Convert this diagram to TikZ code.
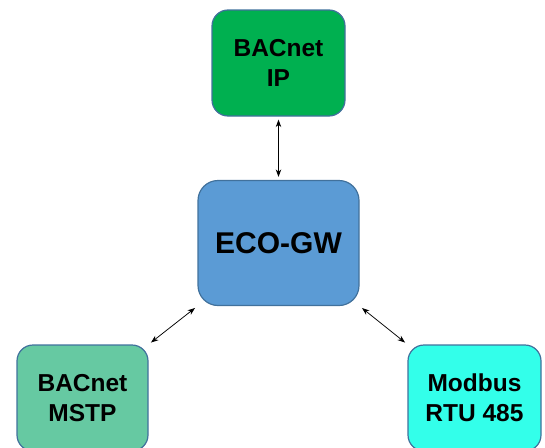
\documentclass[tikz,border=0pt]{standalone}
\usepackage{fontspec}
\setmainfont{Liberation Sans}
\usetikzlibrary{arrows.meta}
\definecolor{bordc}{HTML}{41719C}
\definecolor{ipgreen}{HTML}{00B050}
\definecolor{gwblue}{HTML}{5B9BD5}
\definecolor{mstpc}{HTML}{66C9A2}
\definecolor{modc}{HTML}{33FFEA}
\begin{document}
\begin{tikzpicture}[x=1pt,y=-1pt,
  box/.style={draw=bordc, line width=1.2pt, rounded corners=16pt, inner sep=0pt, align=center,
    font=\bfseries\fontsize{24.5}{30}\selectfont},
  link/.style={{Stealth[length=7.5pt,width=5.5pt]}-{Stealth[length=7.5pt,width=5.5pt]}, line width=0.75pt, shorten <=3pt, shorten >=3pt}]
\useasboundingbox (0,0) rectangle (545,447);
\clip (0,0) rectangle (545,447);
\node[box, fill=ipgreen, minimum width=133pt, minimum height=106pt] (ip) at (278.5,63) {BACnet\\IP};
\node[box, fill=gwblue, minimum width=161pt, minimum height=125pt, rounded corners=20pt,
  font=\bfseries\fontsize{30}{36}\selectfont] (gw) at (278.5,243) {ECO-GW};
\node[box, fill=mstpc, minimum width=131pt, minimum height=106pt] (mstp) at (82.5,398) {BACnet\\MSTP};
\node[box, fill=modc, minimum width=133pt, minimum height=106pt] (mod) at (474.5,398) {Modbus\\RTU 485};
\draw[link] (ip.south) -- (gw.north);
\draw[link] (mstp.north east) -- (gw.south west);
\draw[link] (gw.south east) -- (mod.north west);
\end{tikzpicture}
\end{document}
